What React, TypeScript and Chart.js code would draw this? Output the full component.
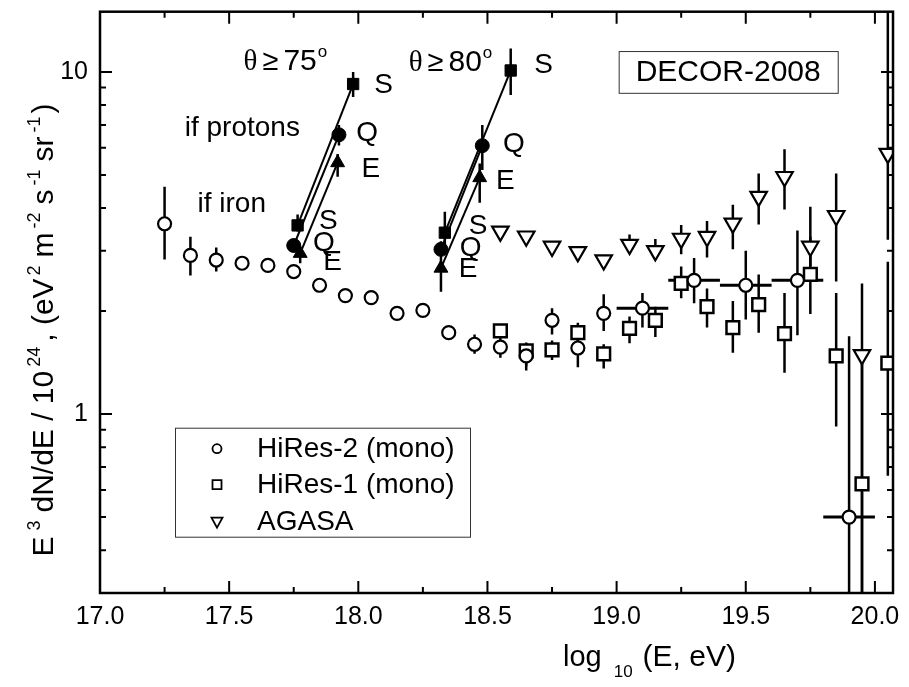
import { useEffect, useRef } from "react";
import { Chart, registerables } from "chart.js";

Chart.register(...registerables);

const SANS = '"Liberation Sans", Arial, Helvetica, sans-serif';
const SERIF = '"Liberation Serif", "DejaVu Serif", serif';

// HiRes-2 (mono): log10(E/eV), flux, error band, energy-bin edges
const hires2LogE = [17.25, 17.35, 17.45, 17.55, 17.65, 17.75, 17.85, 17.95, 18.05, 18.15, 18.25, 18.35, 18.45, 18.55, 18.65, 18.75, 18.85, 18.95, 19.1, 19.3, 19.5, 19.7, 19.9];
const hires2Flux = [3.6, 2.91, 2.82, 2.76, 2.72, 2.61, 2.38, 2.22, 2.19, 1.97, 2.01, 1.73, 1.6, 1.57, 1.48, 1.88, 1.56, 1.97, 2.04, 2.46, 2.38, 2.46, 0.5];
const hires2Hi = [4.62, 3.3, 3.07, 2.8, 2.76, 2.66, 2.43, 2.27, 2.24, 2.01, 2.05, 1.77, 1.71, 1.67, 1.61, 2.04, 1.65, 2.24, 2.26, 2.86, 3.0, 3.44, 1.69];
const hires2Lo = [2.83, 2.54, 2.61, 2.72, 2.68, 2.56, 2.33, 2.17, 2.14, 1.93, 1.97, 1.69, 1.5, 1.46, 1.34, 1.71, 1.37, 1.75, 1.79, 2.11, 1.89, 1.7, 0.2];
const hires2BinLo = [null, null, null, null, null, null, null, null, null, null, null, null, null, null, null, null, null, null, 19.0, 19.2, 19.4, 19.6, 19.8];
const hires2BinHi = [null, null, null, null, null, null, null, null, null, null, null, null, null, null, null, null, null, null, 19.2, 19.4, 19.6, 19.8, 20.0];

// HiRes-1 (mono)
const hires1LogE = [18.55, 18.65, 18.75, 18.85, 18.95, 19.05, 19.15, 19.25, 19.35, 19.45, 19.55, 19.65, 19.75, 19.85, 19.95, 20.05];
const hires1Flux = [1.75, 1.53, 1.54, 1.73, 1.5, 1.78, 1.88, 2.41, 2.06, 1.79, 2.09, 1.72, 2.56, 1.48, 0.625, 1.41];
const hires1Hi = [1.82, 1.62, 1.64, 1.85, 1.6, 1.93, 2.06, 2.7, 2.33, 2.14, 2.56, 2.26, 3.3, 2.26, 1.4, 2.79];
const hires1Lo = [1.68, 1.38, 1.44, 1.6, 1.36, 1.61, 1.68, 2.18, 1.79, 1.51, 1.73, 1.32, 1.96, 0.92, 0.2, 0.66];

// AGASA
const agasaLogE = [18.55, 18.65, 18.75, 18.85, 18.95, 19.05, 19.15, 19.25, 19.35, 19.45, 19.55, 19.65, 19.75, 19.85, 19.95, 20.05];
const agasaFlux = [3.42, 3.31, 3.09, 2.98, 2.82, 3.13, 3.0, 3.26, 3.3, 3.61, 4.32, 4.94, 3.09, 3.8, 1.49, 5.77];
const agasaHi = [3.5, 3.38, 3.16, 3.05, 2.88, 3.35, 3.25, 3.57, 3.67, 4.09, 5.05, 5.94, 4.04, 5.05, 2.41, 16];
const agasaLo = [3.34, 3.24, 3.02, 2.91, 2.76, 3.02, 2.9, 2.93, 2.87, 3.03, 3.58, 3.96, 2.7, 2.44, 0.2, 3.23];

// DECOR-2008, reconstruction S / Q / E; order: θ≥75 iron, θ≥75 protons, θ≥80 iron, θ≥80 protons
const decorSLogE = [17.765, 17.98, 18.335, 18.59];
const decorSFlux = [3.56, 9.22, 3.39, 10.1];
const decorSHi = [3.83, 10.0, 3.9, 11.7];
const decorSLo = [3.42, 8.45, 3.1, 8.56];
const decorQLogE = [17.75, 17.925, 18.32, 18.48];
const decorQFlux = [3.11, 6.55, 3.03, 6.09];
const decorQHi = [3.25, 7.0, 3.2, 7.0];
const decorQLo = [2.98, 6.1, 2.9, 5.17];
const decorELogE = [17.775, 17.92, 18.32, 18.47];
const decorEFlux = [2.95, 5.43, 2.67, 4.91];
const decorEHi = [3.05, 5.76, 3.0, 5.4];
const decorELo = [2.76, 4.94, 2.28, 4.15];

// Letter labels next to the DECOR points
const noteText = ["S", "Q", "E", "S", "Q", "E", "S", "Q", "E", "S", "Q", "E"];
const noteLogE = [18.062, 17.992, 18.012, 17.848, 17.825, 17.864, 18.681, 18.56, 18.533, 18.428, 18.393, 18.389];
const noteFlux = [9.13, 6.6, 5.2, 3.65, 3.15, 2.77, 10.48, 6.13, 4.78, 3.53, 3.05, 2.65];

const xTickValues = [17.0, 17.5, 18.0, 18.5, 19.0, 19.5, 20.0];
const yTickValues = [1, 10];
const yMinorValues = [0.3, 0.4, 0.5, 0.6, 0.7, 0.8, 0.9, 2, 3, 4, 5, 6, 7, 8, 9];

const legendNames = ["HiRes-2 (mono)", "HiRes-1 (mono)", "AGASA"];

const pts = (xs: number[], ys: number[]) => xs.map((x, i) => ({ x, y: ys[i] }));

type Run = { t?: string; size?: number; dy?: number; gap?: number; font?: string };

function runsWidth(ctx: CanvasRenderingContext2D, runs: Run[]) {
  let w = 0;
  for (const r of runs) {
    if (r.gap) { w += r.gap; continue; }
    ctx.font = `${r.size}px ${r.font ?? SANS}`;
    w += ctx.measureText(r.t!).width;
  }
  return w;
}

function drawRuns(ctx: CanvasRenderingContext2D, runs: Run[], x: number, y: number) {
  let cx = x;
  for (const r of runs) {
    if (r.gap) { cx += r.gap; continue; }
    ctx.font = `${r.size}px ${r.font ?? SANS}`;
    ctx.fillText(r.t!, cx, y + (r.dy ?? 0));
    cx += ctx.measureText(r.t!).width;
  }
}

const errorBarPlugin = {
  id: "errorBars",
  beforeDatasetsDraw(chart: any) {
    const { ctx, chartArea: a, scales } = chart;
    const xs = scales.x, ys = scales.y;
    ctx.save();
    ctx.beginPath();
    ctx.rect(a.left, a.top, a.right - a.left, a.bottom - a.top);
    ctx.clip();
    ctx.strokeStyle = "#000";
    chart.data.datasets.forEach((ds: any) => {
      const eb = ds.errorBars;
      if (!eb) return;
      ctx.lineWidth = eb.width;
      ds.data.forEach((p: any, i: number) => {
        const px = xs.getPixelForValue(p.x);
        const py = ys.getPixelForValue(p.y);
        if (eb.hi && eb.hi[i] != null) {
          ctx.beginPath();
          ctx.moveTo(px, ys.getPixelForValue(eb.hi[i]));
          ctx.lineTo(px, ys.getPixelForValue(eb.lo[i]));
          ctx.stroke();
        }
        if (eb.xlo && eb.xlo[i] != null) {
          ctx.save();
          ctx.lineWidth = 3;
          ctx.beginPath();
          ctx.moveTo(xs.getPixelForValue(eb.xlo[i]), py);
          ctx.lineTo(xs.getPixelForValue(eb.xhi[i]), py);
          ctx.stroke();
          ctx.restore();
        }
      });
    });
    ctx.restore();
  },
};

const framePlugin = {
  id: "frameAndNotes",
  afterDraw(chart: any) {
    const { ctx, chartArea: a, scales } = chart;
    const xs = scales.x, ys = scales.y;
    ctx.save();
    ctx.strokeStyle = "#000";
    ctx.fillStyle = "#000";

    // inward tick marks on all four sides
    ctx.lineWidth = 2;
    for (let k = 0; k <= 12; k++) {
      const v = 17 + k * 0.25;
      const px = xs.getPixelForValue(v);
      const len = k % 2 === 0 ? 12 : 6;
      ctx.beginPath();
      ctx.moveTo(px, a.bottom);
      ctx.lineTo(px, a.bottom - len);
      ctx.moveTo(px, a.top);
      ctx.lineTo(px, a.top + len);
      ctx.stroke();
    }
    const yAll = [...yTickValues.map((v) => [v, 12]), ...yMinorValues.map((v) => [v, 6])];
    for (const [v, len] of yAll) {
      const py = ys.getPixelForValue(v);
      ctx.beginPath();
      ctx.moveTo(a.left, py);
      ctx.lineTo(a.left + len, py);
      ctx.moveTo(a.right, py);
      ctx.lineTo(a.right - len, py);
      ctx.stroke();
    }
    // plot frame
    ctx.lineWidth = 2.5;
    ctx.strokeRect(a.left, a.top, a.right - a.left, a.bottom - a.top);

    // S / Q / E labels
    ctx.textBaseline = "middle";
    ctx.textAlign = "left";
    ctx.font = `28px ${SANS}`;
    noteText.forEach((t, i) => {
      ctx.fillText(t, xs.getPixelForValue(noteLogE[i]), ys.getPixelForValue(noteFlux[i]));
    });
    ctx.textAlign = "center";
    ctx.fillText("if protons", xs.getPixelForValue(17.551), ys.getPixelForValue(6.83));
    ctx.fillText("if iron", xs.getPixelForValue(17.51), ys.getPixelForValue(4.1));

    // zenith-angle headers
    ctx.textAlign = "left";
    ctx.textBaseline = "alphabetic";
    const angleHeader = (deg: string, xv: number, yv: number) => {
      const x0 = xs.getPixelForValue(xv);
      const y0 = ys.getPixelForValue(yv);
      drawRuns(ctx, [
        { t: "θ", size: 29, font: SERIF },
        { gap: 5 },
        { t: "≥", size: 29 },
        { gap: 5 },
        { t: deg, size: 30 },
        { gap: 1 },
        { t: "o", size: 17, dy: -13 },
      ], x0, y0);
    };
    angleHeader("75", 17.556, 10.13);
    angleHeader("80", 18.195, 10.07);

    // DECOR-2008 tag
    const bx0 = xs.getPixelForValue(19.008), bx1 = xs.getPixelForValue(19.856);
    const by0 = ys.getPixelForValue(11.51), by1 = ys.getPixelForValue(8.69);
    ctx.lineWidth = 1;
    ctx.strokeStyle = "#333";
    ctx.strokeRect(bx0 + 0.5, by0 + 0.5, bx1 - bx0, by1 - by0);
    ctx.textAlign = "center";
    ctx.textBaseline = "middle";
    ctx.font = `30px ${SANS}`;
    ctx.fillText("DECOR-2008", (bx0 + bx1) / 2, (by0 + by1) / 2 + 1);

    // legend
    const lx = a.left + 75, ly = a.top + 416, lw = 295, lh = 109;
    ctx.strokeStyle = "#333";
    ctx.strokeRect(lx + 0.5, ly + 0.5, lw, lh);
    ctx.strokeStyle = "#000";
    ctx.fillStyle = "#000";
    ctx.textAlign = "left";
    ctx.font = `28px ${SANS}`;
    const rows = [21, 57, 94];
    legendNames.forEach((name, i) => {
      const cy = ly + rows[i];
      const cx = lx + 42;
      ctx.lineWidth = 1.8;
      ctx.beginPath();
      if (i === 0) {
        ctx.arc(cx, cy, 4.5, 0, Math.PI * 2);
      } else if (i === 1) {
        ctx.rect(cx - 4.5, cy - 4.5, 9, 9);
      } else {
        ctx.moveTo(cx - 5.5, cy - 4);
        ctx.lineTo(cx + 5.5, cy - 4);
        ctx.lineTo(cx, cy + 6);
        ctx.closePath();
      }
      ctx.stroke();
      ctx.fillText(name, lx + 82, cy + 1);
    });

    // x axis title
    ctx.textBaseline = "alphabetic";
    ctx.textAlign = "left";
    const xRuns: Run[] = [
      { t: "log", size: 29 },
      { gap: 12 },
      { t: "10", size: 17, dy: 11 },
      { gap: 10 },
      { t: "(E, eV)", size: 30 },
    ];
    drawRuns(ctx, xRuns, 563, 666);

    // y axis title (rotated)
    const yRuns: Run[] = [
      { t: "E", size: 30 }, { gap: 6 }, { t: "3", size: 18, dy: -13 }, { gap: 8 },
      { t: "dN/dE / 10", size: 30 }, { gap: 4 }, { t: "24", size: 18, dy: -13 }, { gap: 5 },
      { t: ", (eV", size: 30 }, { gap: 3 }, { t: "2", size: 18, dy: -13 }, { gap: 8 },
      { t: "m", size: 30 }, { gap: 4 }, { t: "-2", size: 18, dy: -13 }, { gap: 8 },
      { t: "s", size: 30 }, { gap: 4 }, { t: "-1", size: 18, dy: -13 }, { gap: 8 },
      { t: "sr", size: 30 }, { gap: 4 }, { t: "-1", size: 18, dy: -13 }, { gap: 3 },
      { t: ")", size: 30 },
    ];
    const yw = runsWidth(ctx, yRuns);
    ctx.save();
    ctx.translate(53, 330);
    ctx.rotate(-Math.PI / 2);
    drawRuns(ctx, yRuns, -yw / 2, 0);
    ctx.restore();

    ctx.restore();
  },
};

const markerBase = {
  showLine: false,
  pointBorderColor: "#000",
  order: 0,
};

function lineBetween(xs: number[], ys: number[], a: number, b: number) {
  return {
    data: [{ x: xs[a], y: ys[a] }, { x: xs[b], y: ys[b] }],
    showLine: true,
    borderColor: "#000",
    borderWidth: 2,
    pointRadius: 0,
    order: 5,
  };
}

function buildConfig(): any {
  return {
    type: "scatter",
    data: {
      datasets: [
        {
          ...markerBase,
          label: legendNames[0],
          data: pts(hires2LogE, hires2Flux),
          pointStyle: "circle",
          pointRadius: 6.5,
          pointBorderWidth: 2.2,
          pointBackgroundColor: "#fff",
          errorBars: { hi: hires2Hi, lo: hires2Lo, xlo: hires2BinLo, xhi: hires2BinHi, width: 2.5 },
        },
        {
          ...markerBase,
          label: legendNames[1],
          data: pts(hires1LogE, hires1Flux),
          pointStyle: "rect",
          pointRadius: 9,
          pointBorderWidth: 2.5,
          pointBackgroundColor: "#fff",
          errorBars: { hi: hires1Hi, lo: hires1Lo, width: 2.5 },
        },
        {
          ...markerBase,
          label: legendNames[2],
          data: pts(agasaLogE, agasaFlux),
          pointStyle: "triangle",
          pointRotation: 180,
          pointRadius: 9.5,
          pointBorderWidth: 2.2,
          pointBackgroundColor: "#fff",
          errorBars: { hi: agasaHi, lo: agasaLo, width: 2.5 },
        },
        {
          ...markerBase,
          label: "DECOR S",
          data: pts(decorSLogE, decorSFlux),
          pointStyle: "rect",
          pointRadius: 8,
          pointBorderWidth: 1,
          pointBackgroundColor: "#000",
          errorBars: { hi: decorSHi, lo: decorSLo, width: 2.5 },
        },
        {
          ...markerBase,
          label: "DECOR Q",
          data: pts(decorQLogE, decorQFlux),
          pointStyle: "circle",
          pointRadius: 7,
          pointBorderWidth: 1,
          pointBackgroundColor: "#000",
          errorBars: { hi: decorQHi, lo: decorQLo, width: 2.5 },
        },
        {
          ...markerBase,
          label: "DECOR E",
          data: pts(decorELogE, decorEFlux),
          pointStyle: "triangle",
          pointRadius: 8,
          pointBorderWidth: 1,
          pointBackgroundColor: "#000",
          errorBars: { hi: decorEHi, lo: decorELo, width: 2.5 },
        },
        lineBetween(decorSLogE, decorSFlux, 0, 1),
        lineBetween(decorQLogE, decorQFlux, 0, 1),
        lineBetween(decorELogE, decorEFlux, 0, 1),
        lineBetween(decorSLogE, decorSFlux, 2, 3),
        lineBetween(decorQLogE, decorQFlux, 2, 3),
        lineBetween(decorELogE, decorEFlux, 2, 3),
      ],
    },
    options: {
      responsive: false,
      animation: false,
      events: [],
      layout: { padding: { top: 9, right: 16, left: 0, bottom: 0 } },
      plugins: { legend: { display: false }, tooltip: { enabled: false } },
      scales: {
        x: {
          type: "linear",
          min: 17,
          max: 20.07,
          grid: { display: false, drawTicks: false },
          border: { display: false },
          afterBuildTicks: (s: any) => {
            s.ticks = xTickValues.map((value) => ({ value }));
          },
          afterFit: (s: any) => {
            s.height = 94;
            s.paddingLeft = 0;
            s.paddingRight = 0;
          },
          ticks: {
            autoSkip: false,
            maxRotation: 0,
            padding: 9,
            color: "#000",
            font: { family: SANS, size: 25 },
            callback: (v: any) => Number(v).toFixed(1),
          },
        },
        y: {
          type: "logarithmic",
          min: 0.3,
          max: 15,
          grid: { display: false, drawTicks: false },
          border: { display: false },
          afterBuildTicks: (s: any) => {
            s.ticks = yTickValues.map((value) => ({ value }));
          },
          afterFit: (s: any) => {
            s.width = 100;
            s.paddingTop = 0;
            s.paddingBottom = 0;
          },
          ticks: {
            autoSkip: false,
            padding: 12,
            color: "#000",
            font: { family: SANS, size: 25 },
            callback: (v: any) => String(v),
          },
        },
      },
    },
    plugins: [errorBarPlugin, framePlugin],
  };
}

export default function App() {
  const ref = useRef<HTMLCanvasElement>(null);
  useEffect(() => {
    const chart = new Chart(ref.current!, buildConfig());
    return () => chart.destroy();
  }, []);
  return (
    <div style={{ position: "absolute", left: 0, top: 0, width: 909, height: 687, background: "#fff" }}>
      <canvas ref={ref} width={909} height={687} style={{ display: "block" }} />
    </div>
  );
}
